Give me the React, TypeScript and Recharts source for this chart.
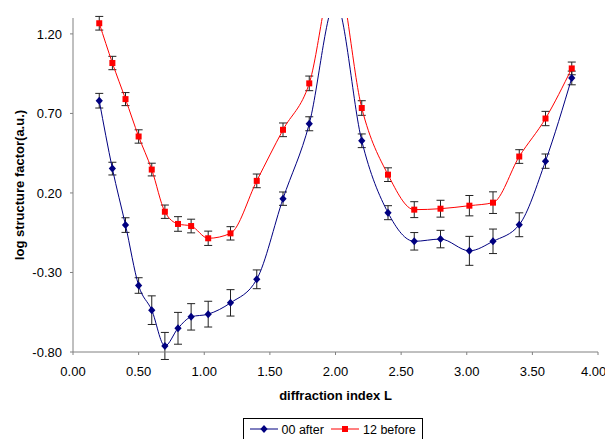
import { LineChart, Line, XAxis, YAxis, ErrorBar, Legend } from 'recharts';

// diffraction index L
const indexL = [0.2, 0.3, 0.4, 0.5, 0.6, 0.7, 0.8, 0.9, 1.03, 1.2, 1.4, 1.6, 1.8, 2.0, 2.2, 2.4, 2.6, 2.8, 3.02, 3.2, 3.4, 3.6, 3.8];

// 00 after
const afterValues = [0.78, 0.353, -0.002, -0.382, -0.537, -0.762, -0.651, -0.579, -0.562, -0.491, -0.343, 0.164, 0.635, 1.4, 0.528, 0.076, -0.104, -0.09, -0.164, -0.104, 0.0, 0.4, 0.923];
const afterErrors = [0.046, 0.04, 0.046, 0.049, 0.09, 0.085, 0.1, 0.083, 0.081, 0.083, 0.059, 0.042, 0.044, null, 0.043, 0.044, 0.055, 0.055, 0.091, 0.077, 0.075, 0.045, 0.043];

// 12 before
const beforeValues = [1.267, 1.017, 0.79, 0.555, 0.347, 0.082, 0.005, -0.008, -0.085, -0.054, 0.276, 0.597, 0.889, 1.6, 0.734, 0.315, 0.095, 0.101, 0.12, 0.139, 0.429, 0.668, 0.983];
const beforeErrors = [0.043, 0.042, 0.041, 0.042, 0.04, 0.042, 0.046, 0.043, 0.045, 0.042, 0.043, 0.043, 0.046, null, 0.046, 0.043, 0.05, 0.053, 0.064, 0.068, 0.043, 0.045, 0.04];

const xTicks = [0, 0.5, 1, 1.5, 2, 2.5, 3, 3.5, 4];
const yTicks = [-0.8, -0.3, 0.2, 0.7, 1.2];

const data = indexL.map((l, i) => ({
  l,
  after: afterValues[i],
  afterErr: afterErrors[i],
  before: beforeValues[i],
  beforeErr: beforeErrors[i],
}));

const FONT = '"Liberation Sans", Arial, sans-serif';
const BLUE = '#000080';
const RED = '#FF0000';

const renderDiamond = (props: any) => {
  const { cx, cy, index } = props;
  if (cx == null || cy == null) return <g key={`d-${index}`} />;
  return (
    <path
      key={`d-${index}`}
      d={`M${cx},${cy - 4}L${cx + 3.6},${cy}L${cx},${cy + 4}L${cx - 3.6},${cy}Z`}
      fill={BLUE}
    />
  );
};

const renderSquare = (props: any) => {
  const { cx, cy, index } = props;
  if (cx == null || cy == null) return <g key={`s-${index}`} />;
  return <rect key={`s-${index}`} x={cx - 3} y={cy - 3} width={6} height={6} fill={RED} />;
};

function LegendBox() {
  return (
    <svg width={180} height={21} style={{ display: 'block' }}>
      <rect x={0.5} y={0.5} width={179} height={30} fill="#fff" stroke="#000" />
      <line x1={7} y1={11} x2={35} y2={11} stroke={BLUE} strokeWidth={1} />
      <path d="M21,7L24.6,11L21,15L17.4,11Z" fill={BLUE} />
      <text x={38.5} y={15.5} fontSize={12.5} fontFamily={FONT} fill="#000">00 after</text>
      <line x1={88} y1={11} x2={116} y2={11} stroke={RED} strokeWidth={1} />
      <rect x={99} y={8} width={6} height={6} fill={RED} />
      <text x={120} y={15.5} fontSize={12.5} fontFamily={FONT} fill="#000">12 before</text>
    </svg>
  );
}

export default function App() {
  return (
    <div style={{ position: 'absolute', left: 0, top: 0, width: 605, height: 439, overflow: 'hidden', background: '#fff' }}>
      <LineChart width={605} height={439} data={data} margin={{ top: 18, right: 7, left: 0, bottom: 0 }}>
        <XAxis
          dataKey="l"
          type="number"
          domain={[0, 4]}
          ticks={xTicks}
          tickFormatter={(v: number) => v.toFixed(2)}
          stroke="#808080"
          tickSize={3}
          tickMargin={12}
          height={87}
          tick={{ fill: '#000', fontSize: 13, fontFamily: FONT }}
          label={{
            value: 'diffraction index L',
            content: (p: any) => (
              <text
                x={p.viewBox.x + p.viewBox.width / 2}
                y={p.viewBox.y + 48}
                textAnchor="middle"
                fontSize={13}
                fontWeight="bold"
                fontFamily={FONT}
                fill="#000"
              >
                diffraction index L
              </text>
            ),
          }}
        />
        <YAxis
          type="number"
          domain={[-0.8, 1.3]}
          ticks={yTicks}
          allowDataOverflow
          tickFormatter={(v: number) => v.toFixed(2)}
          stroke="#808080"
          tickSize={3}
          tickMargin={8}
          width={73}
          tick={{ fill: '#000', fontSize: 13, fontFamily: FONT }}
          label={{
            value: 'log structure factor(a.u.)',
            content: (p: any) => {
              const x = p.viewBox.x + 19.5;
              const y = p.viewBox.y + p.viewBox.height / 2;
              return (
                <text
                  x={x}
                  y={y}
                  transform={`rotate(-90, ${x}, ${y})`}
                  textAnchor="middle"
                  dominantBaseline="central"
                  fontSize={13}
                  fontWeight="bold"
                  fontFamily={FONT}
                  fill="#000"
                >
                  log structure factor(a.u.)
                </text>
              );
            },
          }}
        />
        <Legend
          verticalAlign="middle"
          align="center"
          layout="horizontal"
          wrapperStyle={{ top: 418, left: 243, width: 180, height: 21 }}
          content={() => <LegendBox />}
        />
        <Line
          dataKey="after"
          name="00 after"
          type="monotone"
          stroke={BLUE}
          strokeWidth={1}
          dot={renderDiamond}
          activeDot={false}
          isAnimationActive={false}
        >
          <ErrorBar dataKey="afterErr" direction="y" width={4} stroke="#222" strokeWidth={1} />
        </Line>
        <Line
          dataKey="before"
          name="12 before"
          type="monotone"
          stroke={RED}
          strokeWidth={1}
          dot={renderSquare}
          activeDot={false}
          isAnimationActive={false}
        >
          <ErrorBar dataKey="beforeErr" direction="y" width={4} stroke="#222" strokeWidth={1} />
        </Line>
      </LineChart>
    </div>
  );
}
